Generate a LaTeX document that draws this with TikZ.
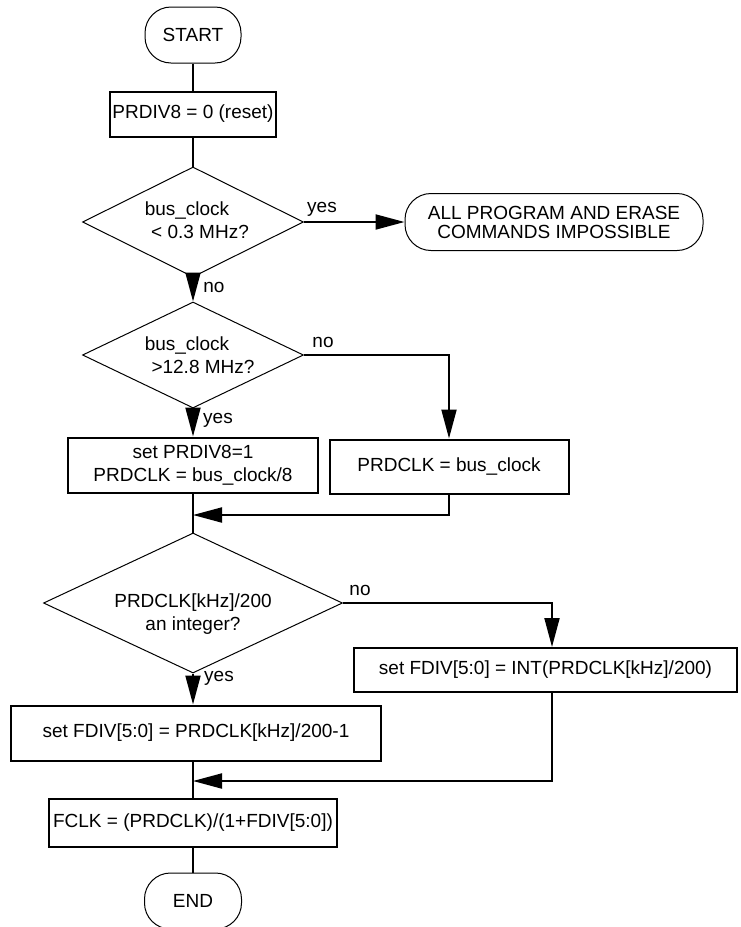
\documentclass[tikz,border=0pt]{standalone}
\usepackage{fontspec}
\setmainfont{Liberation Sans}
\usetikzlibrary{shapes.geometric,arrows.meta,calc}
\begin{document}
\begin{tikzpicture}[x=1pt,y=-1pt,
  every node/.style={font=\fontsize{19}{23.5}\selectfont, inner sep=0pt},
  box/.style={draw, line width=2pt, align=center},
  term/.style={draw, line width=1pt, rounded corners=26pt, align=center},
  dec/.style={draw, diamond, line width=1pt},
  txt/.style={align=center},
  conn/.style={line width=2pt},
  arr/.style={conn, -{Triangle[length=29pt,width=15pt]}},
  lbl/.style={inner sep=0pt}
]
\useasboundingbox (0,0) rectangle (740,927);

% nodes
\node[term, minimum width=96pt, minimum height=56pt] (start) at (193,35) {START};
\node[box, minimum width=166pt, minimum height=45pt] (b1) at (193,114) {PRDIV8 = 0 (reset)};

\node[dec, minimum width=221pt, minimum height=110pt] (d1) at (193,222) {};
\node[txt] (d1t) at (193,220) {bus\_clock\hspace*{12pt}\\\hspace*{14pt}< 0.3 MHz?};

\node[term, minimum width=298pt, minimum height=57pt, font=\fontsize{19}{19}\selectfont] (imp) at (554,222) {ALL PROGRAM AND ERASE\\COMMANDS IMPOSSIBLE};

\node[dec, minimum width=221pt, minimum height=106pt] (d2) at (193,355) {};
\node[txt] (d2t) at (193,355) {bus\_clock\hspace*{12pt}\\\hspace*{20pt}>12.8 MHz?};

\node[box, minimum width=250pt, minimum height=55pt] (b2) at (193,465) {set PRDIV8=1\\PRDCLK = bus\_clock/8};
\node[box, minimum width=239pt, minimum height=54pt] (b3) at (449,466.5) {PRDCLK = bus\_clock};

\node[dec, minimum width=299pt, minimum height=140pt] (d3) at (193,603) {};
\node[txt] (d3t) at (193,614) {PRDCLK[kHz]/200\\an integer?};

\node[box, minimum width=383pt, minimum height=44pt] (b5) at (545.5,669.5) {set FDIV[5:0] = INT(PRDCLK[kHz]/200)};
\node[box, minimum width=370pt, minimum height=55pt] (b4) at (196,733) {set FDIV[5:0] = PRDCLK[kHz]/200-1};
\node[box, minimum width=288pt, minimum height=48pt] (b6) at (193,822.5) {FCLK = (PRDCLK)/(1+FDIV[5:0])};
\node[term, minimum width=97pt, minimum height=56pt] (end) at (193,901) {END};

% coordinates
\coordinate (m1) at (193,515);
\coordinate (n5) at (552,647);
\coordinate (m2) at (193,781);

% connectors
\draw[conn] (start.south) -- (b1.north);
\draw[conn] (b1.south) -- (d1.north);
\draw[arr] (d1.east) -- (d1.east -| imp.west);
\draw[arr] (d1.south) -- (d2.north);
\draw[arr] (d2.east) -| (b3.north);
\draw[arr] (d2.south) -- (b2.north);
\draw[conn] (b2.south) -- (d3.north);
\draw[arr] (b3.south) |- (m1);
\draw[arr] (d3.east) -| (n5);
\draw[arr] (d3.south) -- (d3.south |- b4.north);
\draw[conn] (b4.south -| b6.north) -- (b6.north);
\draw[arr] (b5.south -| n5) |- (m2);
\draw[conn] (b6.south) -- (end.north);

% labels
\node[lbl] (l1) at (322,209) {yes};
\node[lbl] (l2) at (214,287) {no};
\node[lbl] (l3) at (323,342) {no};
\node[lbl] (l4) at (218,420) {yes};
\node[lbl] (l5) at (360,590) {no};
\node[lbl] (l6) at (219,678) {yes};
\end{tikzpicture}
\end{document}
